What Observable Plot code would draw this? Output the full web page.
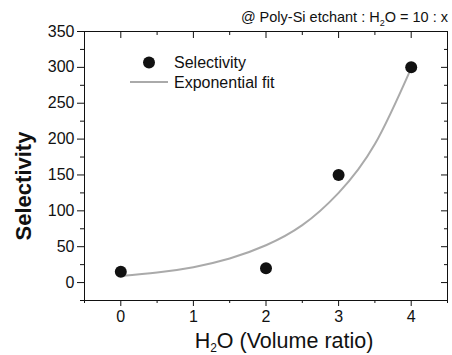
<!DOCTYPE html>
<html>
<head>
<meta charset="utf-8">
<script src="https://cdn.jsdelivr.net/npm/d3@7"></script>
<script src="https://cdn.jsdelivr.net/npm/@observablehq/plot@0.6"></script>
<style>
  html, body { margin: 0; padding: 0; background: #fff; }
  svg { font-family: "Liberation Sans", Arial, sans-serif; }
</style>
</head>
<body>
<div id="chart"></div>
<script>
// Measured data
const ratioX = [0, 2, 3, 4];
const selectivity = [15, 20, 150, 300];

// Exponential fit curve
const fitX = [0, 0.5, 1, 1.5, 2, 2.5, 3, 3.5, 4];
const fitY = [9, 14, 21.5, 33.5, 52, 80, 125, 193, 299];

// Ticks
const xMajor = [0, 1, 2, 3, 4];
const xMinor = [-0.5, 0.5, 1.5, 2.5, 3.5, 4.5];
const yMajor = [0, 50, 100, 150, 200, 250, 300, 350];
const yMinor = [-25, 25, 75, 125, 175, 225, 275, 325];

const points = ratioX.map((x, i) => ({x, y: selectivity[i]}));
const fit = fitX.map((x, i) => ({x, y: fitY[i]}));

const ink = "#111";
const fitColor = "#aaaaaa";

const chart = Plot.plot({
  width: 452,
  height: 355,
  marginLeft: 84,
  marginRight: 5,
  marginTop: 31,
  marginBottom: 55,
  style: {fontFamily: "'Liberation Sans', Arial, sans-serif", fontSize: "16px", color: ink, background: "#fff"},
  x: {domain: [-0.5, 4.5], label: null},
  y: {domain: [-25, 350], label: null},
  marks: [
    Plot.frame({stroke: ink, strokeWidth: 1}),
    // bottom axis
    Plot.axisX({ticks: xMajor, tickSize: 6, tickPadding: 4, tickFormat: d3.format("d"), fontSize: 16, stroke: ink}),
    Plot.axisX({ticks: xMinor, tickSize: 3, text: null, stroke: ink}),
    // top axis (inward)
    Plot.axisX({anchor: "top", ticks: xMajor, tickSize: -6, text: null, stroke: ink}),
    Plot.axisX({anchor: "top", ticks: xMinor, tickSize: -3, text: null, stroke: ink}),
    // left axis
    Plot.axisY({ticks: yMajor, tickSize: 7, tickPadding: 3, tickFormat: d3.format("d"), fontSize: 16, stroke: ink}),
    Plot.axisY({ticks: yMinor, tickSize: 4, text: null, stroke: ink}),
    // right axis (inward)
    Plot.axisY({anchor: "right", ticks: yMajor, tickSize: -7, text: null, stroke: ink}),
    Plot.axisY({anchor: "right", ticks: yMinor, tickSize: -4, text: null, stroke: ink}),
    // fit
    Plot.line(fit, {x: "x", y: "y", stroke: fitColor, strokeWidth: 2, curve: "natural"}),
    // data
    Plot.dot(points, {x: "x", y: "y", r: 6, fill: ink, stroke: "none"})
  ]
});

document.getElementById("chart").appendChild(chart);

const svg = d3.select(chart);
const font = "'Liberation Sans', Arial, sans-serif";

// Y axis title
svg.append("text")
  .attr("transform", "translate(31,186) rotate(-90)")
  .attr("text-anchor", "middle")
  .attr("font-family", font)
  .attr("font-weight", "bold")
  .attr("font-size", 22)
  .attr("fill", ink)
  .text("Selectivity");

// X axis title with subscript
const xt = svg.append("text")
  .attr("x", 284).attr("y", 348)
  .attr("text-anchor", "middle")
  .attr("font-family", font)
  .attr("font-size", 21.5)
  .attr("fill", ink);
xt.append("tspan").text("H");
xt.append("tspan").attr("font-size", 12).attr("dy", 3.5).text("2");
xt.append("tspan").attr("dy", -3.5).text("O (Volume ratio)");

// Top-right annotation
const tt = svg.append("text")
  .attr("x", 448).attr("y", 21.5)
  .attr("text-anchor", "end")
  .attr("font-family", font)
  .attr("font-size", 14.5)
  .attr("fill", ink);
tt.append("tspan").text("@ Poly-Si etchant : H");
tt.append("tspan").attr("font-size", 9).attr("dy", 4).text("2");
tt.append("tspan").attr("dy", -4).text("O = 10 : x");

// Legend
const lg = svg.append("g").attr("font-family", font).attr("font-size", 16).attr("fill", ink)
  .attr("text-anchor", "start");
lg.append("circle").attr("cx", 149).attr("cy", 62.5).attr("r", 6).attr("fill", ink);
lg.append("text").attr("x", 174).attr("y", 68).attr("text-anchor", "start").text("Selectivity");
lg.append("line").attr("x1", 130).attr("x2", 168).attr("y1", 82).attr("y2", 82)
  .attr("stroke", fitColor).attr("stroke-width", 2);
lg.append("text").attr("x", 174).attr("y", 88).attr("text-anchor", "start").text("Exponential fit");
</script>
</body>
</html>
